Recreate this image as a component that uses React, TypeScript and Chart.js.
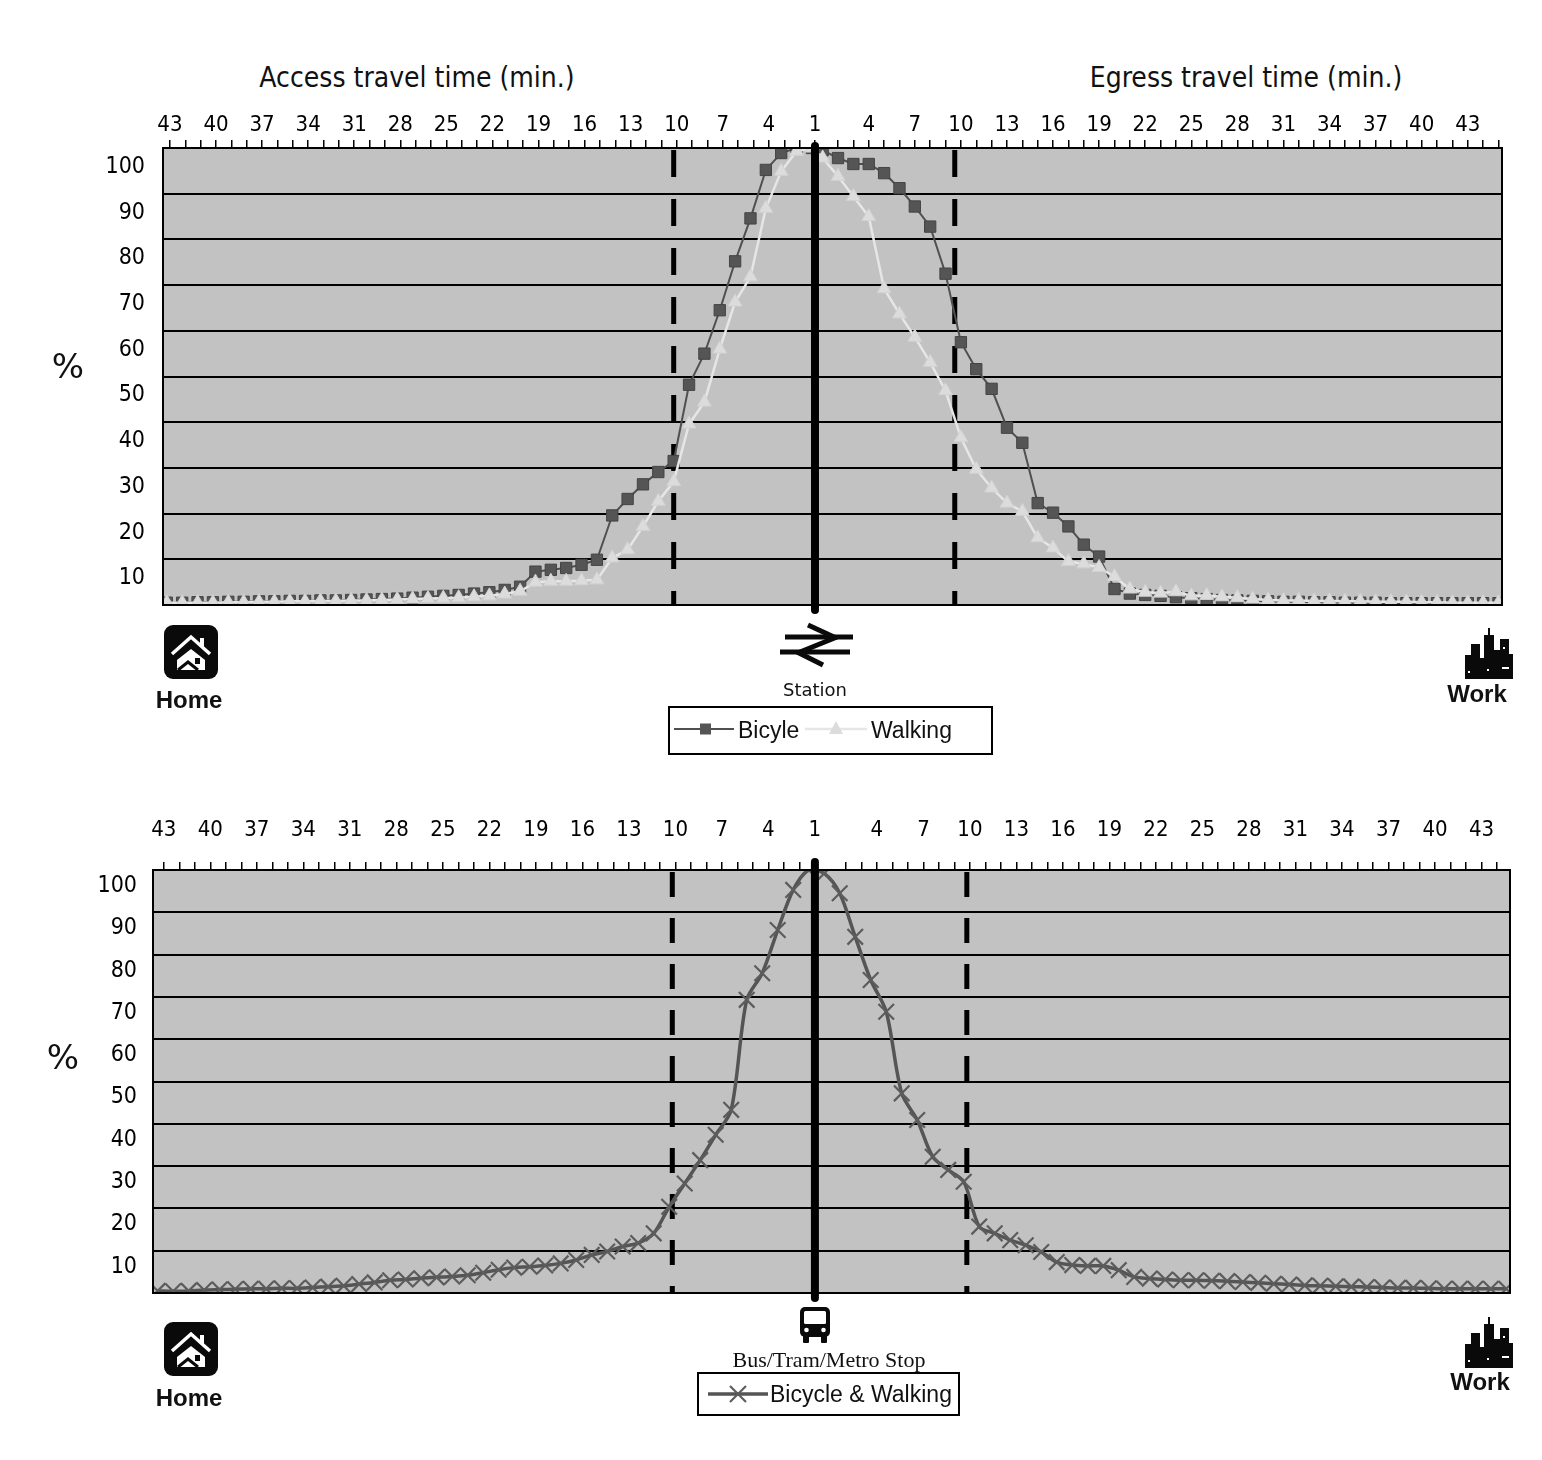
import { useEffect, useRef } from "react";
import { Chart, registerables } from "chart.js";

Chart.register(...registerables);

// Share of trips (%) still longer than a given travel time.
// Index 0 sits at the station/stop, then one point per minute going outward.

// top panel: railway station
const accessBicycle = [100, 100, 98.9, 95.2, 84.6, 75.2, 64.5, 55, 48.2, 31.5, 29.1, 26.4, 23.2, 19.6, 9.9, 8.8, 8.1, 7.7, 7.3, 4.0, 3.3, 2.8, 2.5, 2.2, 2.0, 1.8, 1.6, 1.4, 1.3, 1.2, 1.1, 1.0, 1.0, 0.9, 0.9, 0.8, 0.8, 0.7, 0.7, 0.6, 0.6, 0.5, 0.5];
const accessWalking = [100, 99.3, 94.9, 86.8, 71.8, 66.3, 56, 44.4, 39.6, 27, 22.7, 17.2, 12.1, 10.3, 5.5, 5.3, 5.2, 5.2, 5.0, 3.0, 2.4, 2.0, 1.8, 1.6, 1.5, 1.4, 1.3, 1.2, 1.1, 1.0, 1.0, 0.9, 0.9, 0.8, 0.8, 0.7, 0.7, 0.6, 0.6, 0.5, 0.5, 0.5, 0.5];
const egressBicycle = [99.5, 97.8, 96.5, 96.5, 94.5, 91.2, 87.2, 82.8, 72.5, 57.5, 51.6, 47.3, 38.8, 35.5, 22.3, 20.2, 17.2, 13.2, 10.6, 3.5, 2.5, 2.2, 2.0, 1.7, 1.5, 1.3, 1.1, 1.0, 0.9, 0.8, 0.7, 0.7, 0.6, 0.6, 0.5, 0.5, 0.5, 0.4, 0.4, 0.4, 0.4, 0.4, 0.4, 0.4, 0.4];
const egressWalking = [97.8, 93.8, 89.4, 85, 69.2, 63.7, 58.6, 53.1, 46.9, 36.6, 29.7, 25.6, 22.3, 20.5, 14.7, 12.5, 9.5, 9.0, 8.2, 6.2, 3.5, 2.8, 2.6, 2.9, 2.0, 2.1, 1.8, 1.6, 1.3, 1.1, 1.0, 1.0, 0.9, 0.9, 0.8, 0.8, 0.7, 0.7, 0.7, 0.6, 0.6, 0.5, 0.5, 0.5, 0.5];

// bottom panel: bus/tram/metro stop, bicycle & walking together
const stopAccess = [100, 95.3, 85.8, 75.6, 69.3, 43.3, 37.4, 31.4, 25.9, 20.4, 14.1, 11.8, 11.0, 9.8, 9.0, 7.8, 7.0, 6.5, 6.2, 6.0, 5.5, 4.8, 4.2, 3.9, 3.7, 3.5, 3.2, 3.0, 2.5, 2.1, 1.7, 1.5, 1.3, 1.1, 1.1, 1.0, 1.0, 0.9, 0.8, 0.7, 0.5, 0.4, 0.5];
const stopEgress = [99.2, 94.5, 84.2, 74.0, 66.5, 47.2, 40.9, 32.2, 29.1, 26.3, 15.7, 14.1, 12.5, 11.3, 9.7, 7.3, 6.6, 6.4, 6.4, 5.4, 3.8, 3.4, 3.2, 3.0, 3.0, 2.9, 2.8, 2.6, 2.4, 2.2, 2.0, 1.8, 1.7, 1.6, 1.5, 1.4, 1.3, 1.2, 1.2, 1.1, 1.0, 1.0, 1.0, 1.0, 1.0];

const minuteLabels = [1, 4, 7, 10, 13, 16, 19, 22, 25, 28, 31, 34, 37, 40, 43];
const percentTicks = [10, 20, 30, 40, 50, 60, 70, 80, 90, 100];

const condensed = "'DejaVu Sans Condensed', 'DejaVu Sans', sans-serif";
const arial = "'Liberation Sans', Arial, sans-serif";

// the y axis adds its tick padding below the plot, so keep the canvas this much taller
const BOTTOM_PAD = 36;

// access side runs left (negative), egress side right (positive) of the station
function sidePoints(access: number[], egress: number[], accessOffset: number, egressOffset: number) {
  return [
    ...access.map((y, k) => ({ x: -(k + accessOffset), y })).reverse(),
    ...egress.map((y, k) => ({ x: k + egressOffset, y })),
  ];
}

interface PanelProps {
  top: number;
  plot: { left: number; top: number; right: number; bottom: number };
  xMin: number;
  xMax: number;
  egressShift: number;
  labelPadding: number;
  yPadding: number;
  yLabelOffset: number;
  cutoffs: number[];
  dash: number[];
  centerAbove: number;
  datasets: any[];
}

function Panel(props: PanelProps) {
  const chartRef = useRef<HTMLCanvasElement>(null);
  const height = props.plot.bottom - props.top + BOTTOM_PAD;

  useEffect(() => {
    if (!chartRef.current) return;
    const { plot, xMin, xMax, egressShift } = props;

    // a tick mark every minute, a label every third minute
    const tickValues: number[] = [];
    for (let m = 43; m >= 1; m--) if (-(m - 1) >= xMin) tickValues.push(-(m - 1));
    for (let m = 2; m - 1 + egressShift <= xMax; m++) tickValues.push(m - 1 + egressShift);
    const tickText = new Map<string, string>();
    minuteLabels.forEach((m) => {
      tickText.set((-(m - 1)).toFixed(2), String(m));
      if (m > 1) tickText.set((m - 1 + egressShift).toFixed(2), String(m));
    });

    const decor = {
      id: "decor",
      beforeDraw(chart: any) {
        const { ctx, chartArea: a } = chart;
        ctx.save();
        ctx.fillStyle = "#c2c2c2";
        ctx.fillRect(a.left, a.top, a.right - a.left, a.bottom - a.top);
        ctx.restore();
      },
      beforeDatasetsDraw(chart: any) {
        const { ctx, chartArea: a } = chart;
        const x = chart.scales.x;
        ctx.save();
        ctx.strokeStyle = "#000";
        ctx.lineWidth = 5;
        ctx.setLineDash(props.dash);
        props.cutoffs.forEach((v) => {
          const px = x.getPixelForValue(v);
          ctx.beginPath();
          ctx.moveTo(px, a.top + 2);
          ctx.lineTo(px, a.bottom);
          ctx.stroke();
        });
        ctx.restore();
      },
      afterDatasetsDraw(chart: any) {
        const { ctx, chartArea: a } = chart;
        const x = chart.scales.x;
        ctx.save();
        ctx.strokeStyle = "#000";
        ctx.lineWidth = 2;
        ctx.strokeRect(a.left, a.top, a.right - a.left, a.bottom - a.top);
        const cx = x.getPixelForValue(0);
        ctx.lineWidth = 8;
        ctx.lineCap = "round";
        ctx.beginPath();
        ctx.moveTo(cx, a.top - props.centerAbove);
        ctx.lineTo(cx, a.bottom + 5);
        ctx.stroke();
        ctx.restore();
      },
    };

    const chart = new Chart(chartRef.current, {
      type: "line",
      data: { datasets: props.datasets },
      options: {
        responsive: false,
        animation: false,
        events: [],
        layout: {
          padding: { left: 0, top: 0, right: 1542 - plot.right, bottom: BOTTOM_PAD },
        },
        plugins: { legend: { display: false }, tooltip: { enabled: false } },
        scales: {
          x: {
            type: "linear",
            position: "top",
            min: xMin,
            max: xMax,
            afterFit: (scale: any) => {
              scale.height = plot.top - props.top;
            },
            afterBuildTicks: (axis: any) => {
              axis.ticks = tickValues.map((value) => ({ value }));
            },
            grid: { drawOnChartArea: false, drawTicks: true, tickLength: 8, color: "#000", lineWidth: 1.5 },
            border: { display: true, color: "#000", width: 2 },
            ticks: {
              autoSkip: false,
              maxRotation: 0,
              padding: props.labelPadding,
              color: "#000",
              font: { family: condensed, size: 22 },
              callback: (value: any) => tickText.get(Number(value).toFixed(2)) ?? "",
            },
          },
          y: {
            min: 0,
            max: 100,
            afterFit: (scale: any) => {
              scale.width = plot.left;
            },
            afterBuildTicks: (axis: any) => {
              axis.ticks = [0, ...percentTicks].map((value) => ({ value }));
            },
            grid: { color: "#000", lineWidth: 2, drawTicks: false },
            border: { display: true, color: "#000", width: 2 },
            ticks: {
              padding: props.yPadding,
              labelOffset: props.yLabelOffset,
              color: "#000",
              font: { family: condensed, size: 23 },
              callback: (value: any) => (value === 0 ? "" : String(value)),
            },
          },
        },
      },
      plugins: [decor],
    });

    return () => {
      chart.destroy();
    };
  }, []);

  return (
    <canvas
      ref={chartRef}
      width={1542}
      height={height}
      style={{ position: "absolute", left: 0, top: props.top, width: 1542, height }}
    />
  );
}

function Label({ x, y, text, style }: { x: number; y: number; text: string; style?: any }) {
  return (
    <div
      style={{
        position: "absolute",
        left: x,
        top: y,
        transform: "translate(-50%, -50%)",
        whiteSpace: "nowrap",
        color: "#111",
        lineHeight: 1,
        ...style,
      }}
    >
      {text}
    </div>
  );
}

function HomeIcon({ x, y }: { x: number; y: number }) {
  return (
    <svg width="54" height="54" viewBox="0 0 54 54" style={{ position: "absolute", left: x, top: y }}>
      <rect width="54" height="54" rx="9" fill="#0a0a0a" />
      <path d="M8 29 L27 12 L46 29" fill="none" stroke="#fff" strokeWidth="3.5" />
      <rect x="36" y="13" width="4" height="9" fill="#fff" />
      <path d="M13 35 L27 24 L41 35 L41 45 L13 45 Z" fill="#fff" />
      <path d="M14 45 L24 37 L34 45" fill="none" stroke="#0a0a0a" strokeWidth="3" />
      <rect x="31" y="33" width="5" height="6" fill="#0a0a0a" />
    </svg>
  );
}

function WorkIcon({ x, y }: { x: number; y: number }) {
  return (
    <svg width="48" height="52" viewBox="0 0 48 52" style={{ position: "absolute", left: x, top: y }}>
      <g fill="#0a0a0a">
        <rect x="0" y="28" width="8" height="24" />
        <rect x="6" y="17" width="9" height="35" />
        <rect x="14" y="31" width="6" height="21" />
        <rect x="19" y="8" width="10" height="44" />
        <rect x="23" y="1" width="2" height="8" />
        <rect x="28" y="23" width="8" height="29" />
        <rect x="35" y="12" width="9" height="40" />
        <rect x="43" y="27" width="5" height="25" />
      </g>
      <g fill="#fff">
        <rect x="3" y="44" width="2" height="2" />
        <rect x="22" y="42" width="2" height="2" />
        <rect x="37" y="40" width="7" height="2" />
        <rect x="38" y="20" width="2" height="2" />
      </g>
    </svg>
  );
}

function StationIcon({ x, y }: { x: number; y: number }) {
  return (
    <svg width="80" height="50" viewBox="0 0 80 50" style={{ position: "absolute", left: x, top: y }}>
      <g stroke="#0a0a0a" strokeWidth="5" fill="none" strokeLinecap="butt">
        <line x1="9" y1="17" x2="77" y2="17" />
        <line x1="4" y1="32" x2="74" y2="32" />
        <line x1="32" y1="5" x2="58" y2="17" />
        <line x1="61" y1="17" x2="24" y2="32" />
        <line x1="21" y1="32" x2="47" y2="45" />
      </g>
    </svg>
  );
}

function BusIcon({ x, y }: { x: number; y: number }) {
  return (
    <svg width="34" height="38" viewBox="0 0 34 38" style={{ position: "absolute", left: x, top: y }}>
      <rect x="2" y="1" width="30" height="30" rx="5" fill="#0a0a0a" />
      <rect x="6" y="5" width="22" height="13" rx="1.5" fill="#fff" />
      <rect x="5" y="29" width="6" height="8" rx="1" fill="#0a0a0a" />
      <rect x="23" y="29" width="6" height="8" rx="1" fill="#0a0a0a" />
      <circle cx="8.5" cy="24" r="2.3" fill="#fff" />
      <circle cx="25.5" cy="24" r="2.3" fill="#fff" />
    </svg>
  );
}

const legendText = { fontFamily: arial, fontSize: 23, color: "#111" };

export default function App() {
  // walking first so its triangles sit over the squares, as in the original
  const topDatasets = [
    {
      label: "Walking",
      data: sidePoints(accessWalking, egressWalking, 0.2, 0.5),
      borderColor: "#e6e6e6",
      borderWidth: 2.5,
      pointStyle: "triangle",
      pointRadius: 8,
      pointBackgroundColor: "#dcdcdc",
      pointBorderColor: "#d2d2d2",
      pointBorderWidth: 1,
      clip: 0,
    },
    {
      label: "Bicyle",
      data: sidePoints(accessBicycle, egressBicycle, 0.2, 0.5),
      borderColor: "#505050",
      borderWidth: 2,
      pointStyle: "rect",
      pointRadius: 8,
      pointBackgroundColor: "#555",
      pointBorderColor: "#444",
      pointBorderWidth: 1,
      clip: 0,
    },
  ];

  const bottomDatasets = [
    {
      label: "Bicycle & Walking",
      data: sidePoints(stopAccess, stopEgress, 0.4, 0.6),
      borderColor: "#555",
      borderWidth: 3.5,
      tension: 0.3,
      pointStyle: "crossRot",
      pointRadius: 11,
      pointBorderColor: "#5c5c5c",
      pointBorderWidth: 2.2,
      clip: 0,
    },
  ];

  return (
    <div
      style={{
        position: "fixed",
        left: 0,
        top: 0,
        width: 1542,
        height: 1460,
        background: "#fff",
        overflow: "hidden",
        fontFamily: condensed,
      }}
    >
      <Label x={417} y={78} text="Access travel time (min.)" style={{ fontSize: 28 }} />
      <Label x={1246} y={78} text="Egress travel time (min.)" style={{ fontSize: 28 }} />

      <Panel
        top={0}
        plot={{ left: 163, top: 148, right: 1502, bottom: 605 }}
        xMin={-42.45}
        xMax={44.73}
        egressShift={0.5}
        labelPadding={2}
        yPadding={18}
        yLabelOffset={19}
        cutoffs={[-9.2, 9.1]}
        dash={[27, 22]}
        centerAbove={2}
        datasets={topDatasets}
      />
      <Label x={68} y={366} text="%" style={{ fontSize: 34, fontFamily: "'DejaVu Sans', sans-serif" }} />

      <HomeIcon x={164} y={625} />
      <Label x={189} y={700} text="Home" style={{ fontFamily: arial, fontWeight: "bold", fontSize: 24 }} />
      <StationIcon x={776} y={620} />
      <Label x={815} y={690} text="Station" style={{ fontFamily: "'DejaVu Sans', sans-serif", fontSize: 18 }} />
      <WorkIcon x={1465} y={627} />
      <Label x={1477} y={694} text="Work" style={{ fontFamily: arial, fontWeight: "bold", fontSize: 24 }} />

      <div
        style={{
          position: "absolute",
          left: 668,
          top: 706,
          width: 325,
          height: 49,
          boxSizing: "border-box",
          border: "2px solid #000",
          background: "#fff",
        }}
      >
        <svg width="60" height="24" style={{ position: "absolute", left: 4, top: 9 }}>
          <line x1="0" y1="12" x2="60" y2="12" stroke="#505050" strokeWidth="2" />
          <rect x="26" y="6.5" width="11" height="11" fill="#555" />
        </svg>
        <div style={{ ...legendText, position: "absolute", left: 68, top: 9, lineHeight: "26px" }}>Bicyle</div>
        <svg width="62" height="24" style={{ position: "absolute", left: 135, top: 9 }}>
          <line x1="0" y1="12" x2="62" y2="12" stroke="#e6e6e6" strokeWidth="2.5" />
          <polygon points="31,4 38,17 24,17" fill="#dcdcdc" />
        </svg>
        <div style={{ ...legendText, position: "absolute", left: 201, top: 9, lineHeight: "26px" }}>Walking</div>
      </div>

      <Panel
        top={760}
        plot={{ left: 153, top: 870, right: 1510, bottom: 1293 }}
        xMin={-42.7}
        xMax={44.84}
        egressShift={1}
        labelPadding={19}
        yPadding={16}
        yLabelOffset={16}
        cutoffs={[-9.2, 9.8]}
        dash={[25, 21]}
        centerAbove={8}
        datasets={bottomDatasets}
      />
      <Label x={63} y={1057} text="%" style={{ fontSize: 34, fontFamily: "'DejaVu Sans', sans-serif" }} />

      <HomeIcon x={164} y={1322} />
      <Label x={189} y={1398} text="Home" style={{ fontFamily: arial, fontWeight: "bold", fontSize: 24 }} />
      <BusIcon x={798} y={1306} />
      <Label x={829} y={1360} text="Bus/Tram/Metro Stop" style={{ fontFamily: "'Liberation Serif', serif", fontSize: 22 }} />
      <WorkIcon x={1465} y={1316} />
      <Label x={1480} y={1382} text="Work" style={{ fontFamily: arial, fontWeight: "bold", fontSize: 24 }} />

      <div
        style={{
          position: "absolute",
          left: 697,
          top: 1372,
          width: 263,
          height: 44,
          boxSizing: "border-box",
          border: "2px solid #000",
          background: "#fff",
        }}
      >
        <svg width="60" height="24" style={{ position: "absolute", left: 9, top: 8 }}>
          <line x1="0" y1="12" x2="60" y2="12" stroke="#555" strokeWidth="3.5" />
          <g stroke="#5c5c5c" strokeWidth="2.2">
            <line x1="22" y1="4" x2="38" y2="20" />
            <line x1="38" y1="4" x2="22" y2="20" />
          </g>
        </svg>
        <div style={{ ...legendText, position: "absolute", left: 71, top: 7, lineHeight: "26px" }}>
          Bicycle &amp; Walking
        </div>
      </div>
    </div>
  );
}
